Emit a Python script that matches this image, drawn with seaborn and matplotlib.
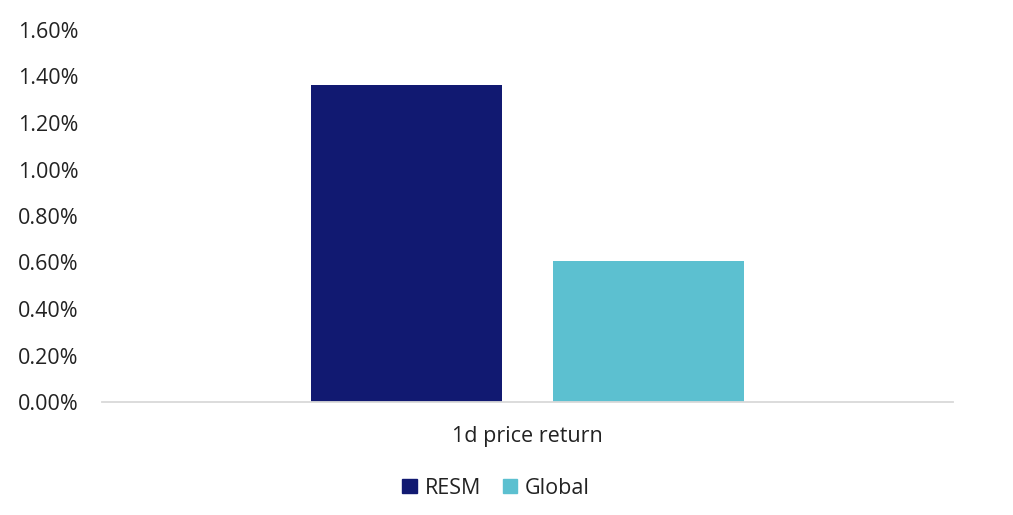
import matplotlib
matplotlib.use('Agg')
import pandas as pd
import matplotlib.pyplot as plt
import seaborn as sns
from matplotlib.ticker import FuncFormatter, MultipleLocator

# values (percent)
categories = ["1d price return"]
series = ["RESM", "Global"]
resm_values = [1.365]
global_values = [0.607]
colors = ["#111971", "#5CC0D0"]

df = pd.DataFrame({
    "metric": categories * 2,
    "fund": ["RESM"] * len(categories) + ["Global"] * len(categories),
    "value": resm_values + global_values,
})

sns.set_theme(style="white")
plt.rcParams['font.family'] = ['Open Sans', 'DejaVu Sans']

fig = plt.figure(figsize=(10.13, 5.15), dpi=100)
ax = fig.add_axes([102 / 1013, 1 - 402 / 515, 851 / 1013, 372 / 515])

sns.barplot(data=df, x="metric", y="value", hue="fund", hue_order=series,
            palette=colors, width=0.571, gap=0.214, saturation=1,
            edgecolor="none", ax=ax, legend=False)

ax.set_xlim(-0.5, 0.5)
ax.set_ylim(0, 1.6)
ax.yaxis.set_major_locator(MultipleLocator(0.2))
ax.yaxis.set_major_formatter(FuncFormatter(lambda v, p: "%.2f%%" % v))
ax.tick_params(axis="y", length=0, pad=17, labelsize=15.5, labelcolor="#222222")
ax.tick_params(axis="x", length=0, pad=17.5, labelsize=15.5, labelcolor="#222222")
ax.set_xlabel("")
ax.set_ylabel("")
for s in ["top", "right", "left"]:
    ax.spines[s].set_visible(False)
ax.spines["bottom"].set_color("#D9D9D9")
ax.spines["bottom"].set_linewidth(1.3)

handles = [plt.Rectangle((0, 0), 1, 1, color=c) for c in colors]
fig.legend(handles, series, loc="center", bbox_to_anchor=(496 / 1013, 1 - 488 / 515),
           ncol=2, frameon=False, fontsize=15.5, handlelength=0.68, handleheight=0.68,
           handletextpad=0.35, columnspacing=1.0, labelcolor="#222222")

fig.savefig("out.png", dpi=100)
